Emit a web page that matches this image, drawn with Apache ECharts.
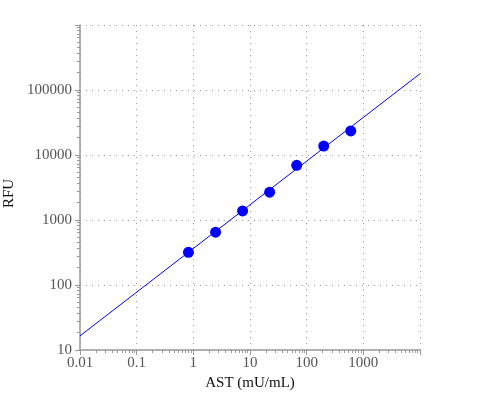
<!DOCTYPE html>
<html>
<head>
<meta charset="utf-8">
<script src="https://cdn.jsdelivr.net/npm/echarts@6/dist/echarts.min.js"></script>
<style>html,body{margin:0;padding:0;background:#fff}#c{width:500px;height:400px}</style>
</head>
<body>
<div id="c"></div>
<script>
// Measured standards (AST concentration vs RFU)
const astValues = [0.82, 2.47, 7.4, 22.2, 66.7, 200, 600];
const rfuValues = [318, 650, 1380, 2680, 6950, 13700, 23500];
// Fitted line endpoints
const fitX = [0.01, 10000];
const fitY = [16.5, 178000];
const xTickLabels = ['0.01', '0.1', '1', '10', '100', '1000'];
const yTickLabels = ['10', '100', '1000', '10000', '100000'];

const font = 'Liberation Serif, Times New Roman, serif';
const chart = echarts.init(document.getElementById('c'));
function fmt(v, list) {
  const s = String(Number(v.toPrecision(6)));
  return list.indexOf(s) >= 0 ? s : '';
}
const axisCommon = {
  type: 'log',
  logBase: 10,
  axisLine: {show: true, onZero: false, lineStyle: {color: '#999', width: 1.5}},
  axisTick: {show: true, length: 5, lineStyle: {color: '#999', width: 1}},
  minorTick: {show: true, splitNumber: 10, length: 3, lineStyle: {color: '#999', width: 1}},
  splitLine: {show: true, lineStyle: {type: [1, 5], color: '#999', width: 1}},
  nameLocation: 'middle'
};
chart.setOption({
  animation: false,
  grid: {left: 80, right: 80, top: 25, bottom: 50, containLabel: false, outerBoundsMode: 'none'},
  xAxis: Object.assign({}, axisCommon, {
    min: 0.01, max: 10000,
    name: 'AST (mU/mL)', nameGap: 26,
    nameTextStyle: {fontFamily: font, fontSize: 15, color: '#111'},
    axisLabel: {fontFamily: font, fontSize: 15, color: '#555', margin: 6, showMaxLabel: false,
      formatter: v => fmt(v, xTickLabels)}
  }),
  yAxis: Object.assign({}, axisCommon, {
    min: 10, max: 1000000,
    name: 'RFU', nameGap: 62,
    nameTextStyle: {fontFamily: font, fontSize: 15, color: '#111', padding: [0, 12, 0, 0]},
    axisLabel: {fontFamily: font, fontSize: 15, color: '#555', margin: 8, showMaxLabel: false,
      formatter: v => fmt(v, yTickLabels)}
  }),
  series: [
    {
      type: 'line',
      data: fitX.map((x, i) => [x, fitY[i]]),
      showSymbol: false,
      lineStyle: {color: '#0000ff', width: 1},
      z: 2
    },
    {
      type: 'scatter',
      data: astValues.map((x, i) => [x, rfuValues[i]]),
      symbolSize: 11,
      itemStyle: {color: '#0000ff', opacity: 1},
      z: 3
    }
  ]
});
</script>
</body>
</html>
